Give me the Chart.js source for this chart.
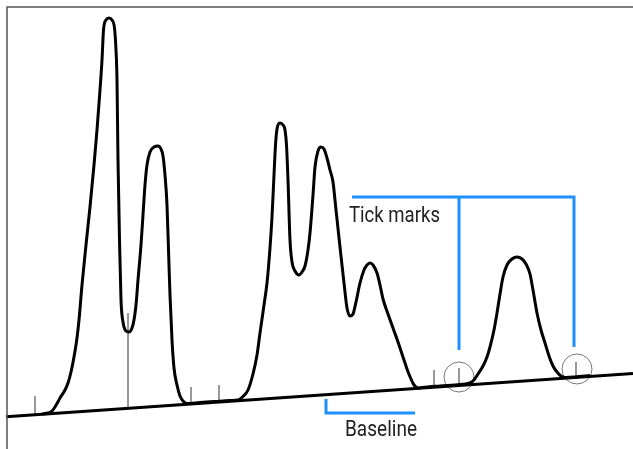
<!DOCTYPE html>
<html>
<head>
<meta charset="utf-8">
<title>Chromatogram</title>
<script src="https://cdn.jsdelivr.net/npm/chart.js@4/dist/chart.umd.min.js"></script>
<style>
    html, body { margin: 0; padding: 0; background: #fff; }
    canvas { display: block; }
</style>
</head>
<body>
<canvas id="chrom" width="633" height="449"></canvas>
<script>
// detector trace: retention time vs signal
const traceTime = [
    42, 48, 52, 55, 60, 65, 68, 71, 74, 77, 79, 82, 86, 90, 94, 97, 100, 102, 103.5, 106,
    109, 112, 114.5, 116, 117, 118, 119.5, 121, 123, 126, 129, 132, 134, 136, 138, 141, 143, 145, 147, 150,
    154, 158, 161, 163, 165, 167, 168.5, 170, 172, 174, 177, 180, 183, 187, 200, 215, 230, 238, 243, 248,
    253, 257, 260, 264, 267, 270, 272, 274, 275.5, 277, 280, 283, 285, 286.5, 288, 290, 292, 295, 299, 302,
    305, 308, 310, 313, 315, 318, 321, 324, 327, 330, 333, 336, 340, 344, 347, 350, 353, 356, 360, 364,
    367, 370, 373, 377, 380, 383, 388, 393, 398, 403, 407, 411, 414, 418, 422, 440, 460, 468, 473, 478,
    483, 487, 490, 494, 497, 500, 503, 507, 512, 517, 522, 526, 530, 533, 537, 541, 545, 549, 553, 557,
    561, 566, 575, 590
];
const traceSignal = [
    35, 36, 38, 42, 51, 59, 66, 77, 92, 111, 129, 164, 204, 242, 284, 319, 359, 389, 419, 429,
    431, 429, 421, 399, 369, 289, 209, 149, 127, 118, 117, 121, 129, 144, 169, 204, 234, 264, 284, 297,
    302, 303, 300, 293, 274, 244, 199, 154, 109, 81, 64, 53, 48, 45.5, 46.5, 47.5, 48.5, 49, 52.5, 59,
    75, 94, 116, 144, 166, 201, 232, 274, 304, 320, 326, 324, 319, 304, 269, 209, 187, 178, 174, 177,
    183, 199, 216, 254, 282, 298, 302, 300, 291, 279, 267, 239, 202, 166, 141, 133, 135, 147, 166, 179,
    184, 186, 184, 176, 164, 150, 135, 121, 107, 92, 80, 70, 64, 61, 61.5, 63, 64.5, 65.5, 68, 75,
    83, 92, 102, 119, 136, 155, 172, 184, 190, 192, 190, 185, 175, 159, 136, 119, 106, 93, 83, 77,
    73, 71.5, 72, 73.5
];

// drawn baseline (start and end)
const baselineTime = [6, 633];
const baselineSignal = [32.3, 75.4];

// integration tick marks
const tickTime = [35, 128, 191, 219, 434, 459, 576];
const tickTop = [53, 136, 62, 64, 79, 81, 87];

// circled ticks
const circleTime = [459, 577];
const circleSignal = [72, 80];

// callout labels
const labelText = ["Tick marks", "Baseline"];
const labelTime = [349, 345];
const labelSignal = [227, 13];
const labelWidth = [91, 72];

const BLUE = "#1e90ff";

function baselineAt(t) {
    const k = (t - baselineTime[0]) / (baselineTime[1] - baselineTime[0]);
    return baselineSignal[0] + k * (baselineSignal[1] - baselineSignal[0]);
}

// tick segments, separated by gaps
const tickPoints = [];
tickTime.forEach((t, i) => {
    tickPoints.push({ x: t, y: baselineAt(t) });
    tickPoints.push({ x: t, y: tickTop[i] });
    tickPoints.push({ x: t, y: null });
});

// blue callout brackets
const tickCallout = [
    { x: 352, y: 252 }, { x: 574, y: 252 }, { x: 574, y: 102 }, { x: 574, y: null },
    { x: 459, y: 252 }, { x: 459, y: 99 }
];
const baselineCallout = [{ x: 326, y: 50 }, { x: 326, y: 36 }, { x: 415, y: 36 }];

const frame = [{ x: 7, y: 0 }, { x: 7, y: 442 }, { x: 633, y: 442 }];

const labelPlugin = {
    id: "labels",
    afterDatasetsDraw(chart) {
        const ctx = chart.ctx;
        const xs = chart.scales.x;
        const ys = chart.scales.y;
        ctx.save();
        ctx.fillStyle = "#222";
        ctx.font = "22px Roboto";
        ctx.textBaseline = "alphabetic";
        labelText.forEach((txt, i) => {
            const px = xs.getPixelForValue(labelTime[i]);
            const py = ys.getPixelForValue(labelSignal[i]);
            const w = ctx.measureText(txt).width;
            ctx.save();
            ctx.translate(px, py);
            ctx.scale(labelWidth[i] / w, 1);
            ctx.fillText(txt, 0, 0);
            ctx.restore();
        });
        ctx.restore();
    }
};

new Chart(document.getElementById("chrom"), {
    type: "line",
    data: {
        datasets: [
            {
                data: frame,
                borderColor: "#555",
                borderWidth: 1.5,
                pointRadius: 0
            },
            {
                data: baselineTime.map((t, i) => ({ x: t, y: baselineSignal[i] })),
                borderColor: "#000",
                borderWidth: 3,
                pointRadius: 0
            },
            {
                data: traceTime.map((t, i) => ({ x: t, y: traceSignal[i] })),
                borderColor: "#000",
                borderWidth: 3,
                pointRadius: 0,
                cubicInterpolationMode: "monotone"
            },
            {
                data: tickPoints,
                borderColor: "#333",
                borderWidth: 1,
                pointRadius: 0,
                spanGaps: false
            },
            {
                type: "scatter",
                data: circleTime.map((t, i) => ({ x: t, y: circleSignal[i] })),
                showLine: false,
                pointRadius: 15,
                pointBorderColor: "#777",
                pointBorderWidth: 1,
                pointBackgroundColor: "rgba(0,0,0,0)"
            },
            {
                data: tickCallout,
                borderColor: BLUE,
                borderWidth: 3,
                pointRadius: 0,
                spanGaps: false,
                borderJoinStyle: "miter"
            },
            {
                data: baselineCallout,
                borderColor: BLUE,
                borderWidth: 3,
                pointRadius: 0,
                borderJoinStyle: "miter"
            }
        ]
    },
    options: {
        responsive: false,
        animation: false,
        events: [],
        layout: { padding: 0, autoPadding: false },
        plugins: {
            legend: { display: false },
            tooltip: { enabled: false }
        },
        scales: {
            x: { type: "linear", min: 0, max: 633, display: false },
            y: { type: "linear", min: 0, max: 449, display: false }
        }
    },
    plugins: [labelPlugin]
});
</script>
</body>
</html>
